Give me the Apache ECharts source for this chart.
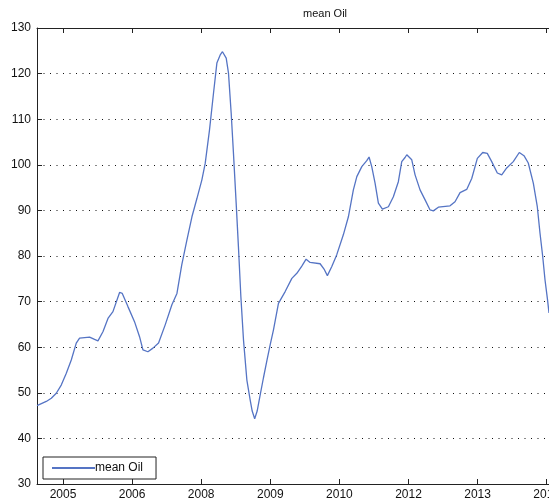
<!DOCTYPE html>
<html>
<head>
<meta charset="utf-8">
<script src="https://cdn.jsdelivr.net/npm/echarts@6/dist/echarts.min.js"></script>
<style>html,body{margin:0;padding:0;background:#fff}#c{width:549px;height:504px}</style>
</head>
<body>
<div id="c"></div>
<script>
// x positions in axis tick units (tick k = k-th date label), y = mean oil price
var xPos = [-0.376,-0.362,-0.242,-0.169,-0.097,-0.025,0.048,0.120,0.192,0.240,0.385,0.457,0.506,0.578,0.651,0.723,0.819,0.858,0.940,1.035,1.108,1.157,1.229,1.302,1.383,1.479,1.576,1.649,1.718,1.793,1.866,1.938,2.010,2.058,2.120,2.178,2.227,2.275,2.308,2.362,2.395,2.434,2.467,2.506,2.539,2.574,2.612,2.661,2.709,2.738,2.774,2.810,2.853,2.901,2.950,2.998,3.046,3.118,3.215,3.312,3.384,3.456,3.518,3.576,3.721,3.783,3.826,3.890,3.962,4.058,4.130,4.202,4.252,4.324,4.396,4.429,4.468,4.516,4.564,4.622,4.709,4.781,4.853,4.902,4.950,4.975,5.047,5.095,5.167,5.240,5.312,5.359,5.432,5.601,5.673,5.746,5.842,5.915,5.996,6.074,6.140,6.204,6.285,6.349,6.421,6.516,6.603,6.671,6.733,6.806,6.863,6.903,6.942,6.975,7.011,7.033];
var meanOil = [47.2,47.2,48.1,48.8,49.9,51.7,54.3,57.2,60.9,62.0,62.2,61.7,61.4,63.4,66.3,67.8,72.0,71.8,68.9,65.6,62.3,59.4,59.0,59.8,60.9,64.9,69.3,71.8,78.0,83.5,88.6,92.6,96.7,100.3,107.6,115.7,122.3,124.1,124.8,123.4,120.1,111.3,102.5,91.6,82.0,71.1,61.6,52.8,48.4,46.0,44.3,46.0,49.5,53.3,57.0,60.5,63.8,69.6,72.2,75.1,76.2,77.8,79.3,78.6,78.3,77.0,75.7,77.7,80.3,84.7,88.6,94.5,97.4,99.6,100.9,101.7,99.6,96.0,91.6,90.3,90.8,93.0,96.3,100.7,101.6,102.2,101.1,97.8,94.5,92.3,90.1,89.9,90.7,91.0,91.9,93.9,94.6,97.0,101.4,102.7,102.5,100.7,98.2,97.8,99.3,100.7,102.7,102.0,100.4,96.0,90.9,85.0,79.9,74.8,70.5,67.5];
var tickLabels = ['2005','2006','2008','2009','2010','2012','2013','2014'];
var tickValues = [0,1,2,3,4,5,6,7];
var seriesName = 'mean Oil';
var titleText = 'mean Oil';

var data = xPos.map(function(x, i){ return [x, meanOil[i]]; });
var font = 'Liberation Sans, Arial, sans-serif';
var chart = echarts.init(document.getElementById('c'), null, {renderer:'canvas'});
chart.setOption({
  animation: false,
  backgroundColor: '#fff',
  title: { text: titleText, left: 298, top: 3, textStyle: { fontFamily: font, fontSize: 11, fontWeight: 'normal', color: '#111' } },
  legend: {
    data: [seriesName], left: 43, top: 457, orient: 'vertical',
    backgroundColor: '#fff', borderColor: '#222', borderWidth: 1, padding: [5, 13, 5, 8],
    itemWidth: 43, itemHeight: 2, itemGap: 2,
    textStyle: { fontFamily: font, fontSize: 12, color: '#111', padding: [0,0,0,-5] }
  },
  grid: { left: 37, right: 0, top: 28, bottom: 20, containLabel: false, outerBoundsMode: 'none' },
  xAxis: [{
    type: 'value', position: 'bottom', min: -0.376, max: 7.033,
    axisLine: { show: true, onZero: false, lineStyle: { color: '#222', width: 1 } },
    axisTick: { show: true, inside: true, length: 5, customValues: tickValues, lineStyle: { color: '#222' } },
    axisLabel: { show: true, customValues: tickValues, margin: 5, fontFamily: font, fontSize: 12, color: '#111',
      hideOverlap: false,
      formatter: function(v){ return tickLabels[Math.round(v)]; } },
    splitLine: { show: false }
  }, {
    type: 'value', position: 'top', min: -0.376, max: 7.033,
    axisLine: { show: true, onZero: false, lineStyle: { color: '#222', width: 1 } },
    axisTick: { show: true, inside: true, length: 5, customValues: tickValues, lineStyle: { color: '#222' } },
    axisLabel: { show: false },
    splitLine: { show: false }
  }],
  yAxis: {
    type: 'value', min: 30, max: 130, interval: 10,
    axisLine: { show: true, onZero: false, lineStyle: { color: '#222', width: 1 } },
    axisTick: { show: true, inside: true, length: 5, lineStyle: { color: '#222' } },
    axisLabel: { margin: 6, fontFamily: font, fontSize: 12, color: '#111' },
    splitLine: { show: true, lineStyle: { color: '#111', type: [1, 5.5], width: 1 } }
  },
  series: [{
    name: seriesName, type: 'line', xAxisIndex: 0, data: data,
    symbol: 'none', smooth: false,
    lineStyle: { color: '#5574c4', width: 1.3 },
    itemStyle: { color: '#5574c4' }
  }]
});
</script>
</body>
</html>
